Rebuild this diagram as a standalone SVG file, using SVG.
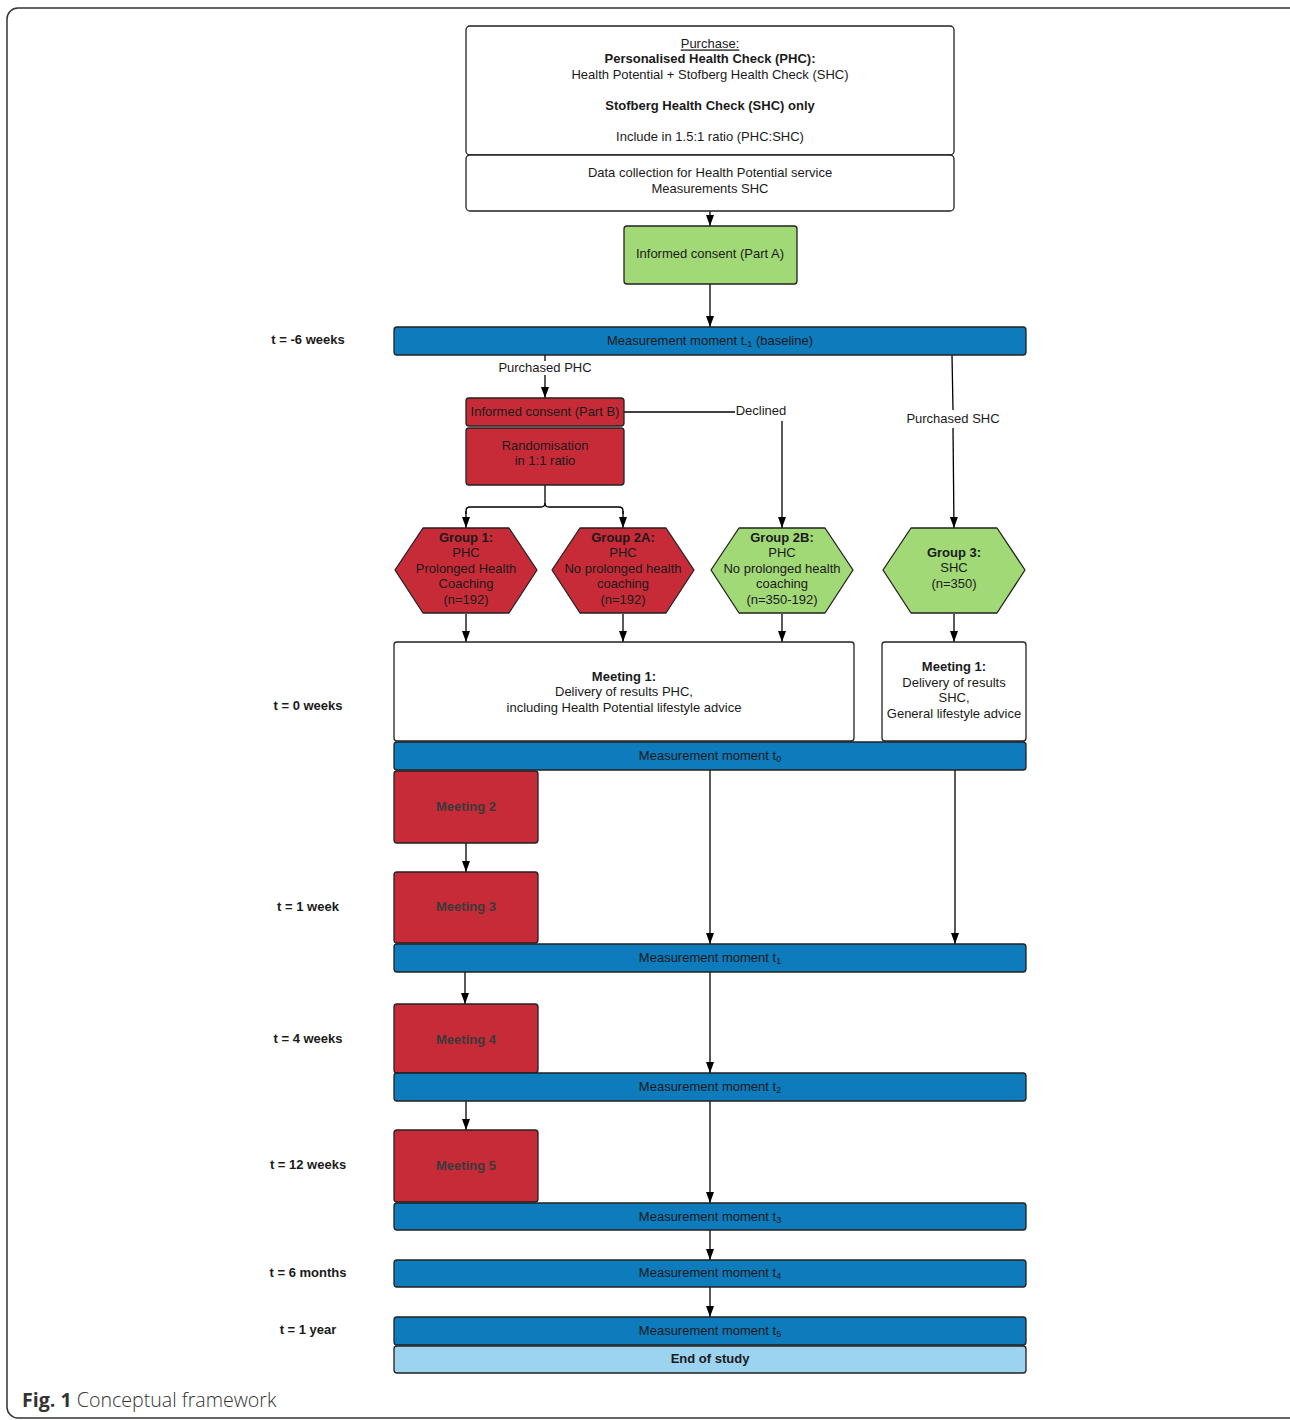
<svg xmlns="http://www.w3.org/2000/svg" width="1290" height="1420" viewBox="0 0 1290 1420">
<defs>
<marker id="ah" markerWidth="12" markerHeight="10" refX="11" refY="5" orient="auto" markerUnits="userSpaceOnUse"><path d="M0,1 L11,5 L0,9 z" fill="#000"/></marker>
<style>
text{font-family:"Liberation Sans",Arial,sans-serif;font-size:13px;fill:#1a1a1a;text-anchor:middle;dominant-baseline:middle;transform:translateY(1px)}
.b{font-weight:bold}
.box{fill:#fff;stroke:#222;stroke-width:1.3}
.red{fill:#C82B38;stroke:#222;stroke-width:1.3}
.green{fill:#A2D977;stroke:#222;stroke-width:1.3}
.blue{fill:#0D7BBC;stroke:#222;stroke-width:1.3}
.lblue{fill:#9CD3F1;stroke:#222;stroke-width:1.3}
.mt{fill:#3a3a3a;font-weight:bold}
.tl{font-weight:bold}
.c{fill:none;stroke:#000;stroke-width:1.3}
.a{fill:none;stroke:#000;stroke-width:1.3;marker-end:url(#ah)}
.sub{font-size:9px}
</style>
</defs>
<rect x="7" y="8" width="1300" height="1410" rx="11" fill="#fff" stroke="#333" stroke-width="1.5"/>

<g id="time-labels">
<text class="tl" x="308" y="340">t = -6 weeks</text>
<text class="tl" x="308" y="706">t = 0 weeks</text>
<text class="tl" x="308" y="907">t = 1 week</text>
<text class="tl" x="308" y="1039">t = 4 weeks</text>
<text class="tl" x="308" y="1165">t = 12 weeks</text>
<text class="tl" x="308" y="1273">t = 6 months</text>
<text class="tl" x="308" y="1330">t = 1 year</text>
</g>

<g id="connectors">
<line class="a" x1="710" y1="211" x2="710" y2="226"/>
<line class="a" x1="710" y1="284" x2="710" y2="327"/>
<line class="c" x1="545" y1="355" x2="545" y2="361"/>
<line class="a" x1="545" y1="375" x2="545" y2="398"/>
<line class="c" x1="624" y1="412" x2="735" y2="412"/>
<line class="a" x1="782" y1="421" x2="782" y2="528"/>
<line class="c" x1="952" y1="355" x2="953" y2="410"/>
<line class="a" x1="953" y1="428" x2="954" y2="528"/>
<path class="c" d="M545,485 V503 Q545,507 541,507 H470 Q466,507 466,511 V514"/>
<path class="a" d="M466,511 V528"/>
<path class="c" d="M545,503 Q545,507 549,507 H619 Q623,507 623,511 V514"/>
<path class="a" d="M623,511 V528"/>
<line class="a" x1="466" y1="614" x2="466" y2="642"/>
<line class="a" x1="623" y1="614" x2="623" y2="642"/>
<line class="a" x1="782" y1="614" x2="782" y2="642"/>
<line class="a" x1="954" y1="614" x2="954" y2="642"/>
<line class="a" x1="466" y1="843" x2="466" y2="872"/>
<line class="a" x1="710" y1="770" x2="710" y2="944"/>
<line class="a" x1="955" y1="770" x2="955" y2="944"/>
<line class="a" x1="465" y1="972" x2="465" y2="1004"/>
<line class="a" x1="710" y1="972" x2="710" y2="1073"/>
<line class="a" x1="466" y1="1101" x2="466" y2="1130"/>
<line class="a" x1="710" y1="1101" x2="710" y2="1203"/>
<line class="a" x1="710" y1="1230" x2="710" y2="1260"/>
<line class="a" x1="710" y1="1287" x2="710" y2="1317"/>
<text x="545" y="368">Purchased PHC</text>
<text x="761" y="411">Declined</text>
<text x="953" y="419">Purchased SHC</text>
</g>

<g id="purchase">
<rect class="box" x="466" y="26" width="488" height="129" rx="4"/>
<text x="710" y="44" text-decoration="underline">Purchase:</text>
<text class="b" x="710" y="59">Personalised Health Check (PHC):</text>
<text x="710" y="75">Health Potential + Stofberg Health Check (SHC)</text>
<text class="b" x="710" y="106">Stofberg Health Check (SHC) only</text>
<text x="710" y="137">Include in 1.5:1 ratio (PHC:SHC)</text>
</g>
<g id="data-collection">
<rect class="box" x="466" y="155" width="488" height="56" rx="4"/>
<text x="710" y="173">Data collection for Health Potential service</text>
<text x="710" y="189">Measurements SHC</text>
</g>
<g id="consent-a">
<rect class="green" x="624" y="226" width="173" height="58" rx="3"/>
<text x="710" y="254">Informed consent (Part A)</text>
</g>
<g id="mm-baseline">
<rect class="blue" x="394" y="327" width="632" height="28" rx="3"/>
<text x="710" y="341">Measurement moment t<tspan class="sub" dy="3">-1</tspan><tspan dy="-3"> (baseline)</tspan></text>
</g>
<g id="consent-b">
<rect class="red" x="466" y="398" width="158" height="28" rx="3"/>
<text x="545" y="412">Informed consent (Part B)</text>
</g>
<g id="randomisation">
<rect class="red" x="466" y="428" width="158" height="57" rx="3"/>
<text x="545" y="446">Randomisation</text>
<text x="545" y="461">in 1:1 ratio</text>
</g>
<g id="group1">
<polygon class="red" stroke-linejoin="round" points="395,570 423,528 509,528 537,570 509,613 423,613"/>
<text class="b" x="466" y="538">Group 1:</text>
<text x="466" y="553">PHC</text>
<text x="466" y="569">Prolonged Health</text>
<text x="466" y="584">Coaching</text>
<text x="466" y="600">(n=192)</text>
</g>
<g id="group2a">
<polygon class="red" stroke-linejoin="round" points="552,570 580,528 666,528 694,570 666,613 580,613"/>
<text class="b" x="623" y="538">Group 2A:</text>
<text x="623" y="553">PHC</text>
<text x="623" y="569">No prolonged health</text>
<text x="623" y="584">coaching</text>
<text x="623" y="600">(n=192)</text>
</g>
<g id="group2b">
<polygon class="green" stroke-linejoin="round" points="711,570 739,528 825,528 853,570 825,613 739,613"/>
<text class="b" x="782" y="538">Group 2B:</text>
<text x="782" y="553">PHC</text>
<text x="782" y="569">No prolonged health</text>
<text x="782" y="584">coaching</text>
<text x="782" y="600">(n=350-192)</text>
</g>
<g id="group3">
<polygon class="green" stroke-linejoin="round" points="883,570 911,528 997,528 1025,570 997,613 911,613"/>
<text class="b" x="954" y="553">Group 3:</text>
<text x="954" y="568">SHC</text>
<text x="954" y="584">(n=350)</text>
</g>
<g id="meeting1-phc">
<rect class="box" x="394" y="642" width="460" height="99" rx="3"/>
<text class="b" x="624" y="677">Meeting 1:</text>
<text x="624" y="692">Delivery of results PHC,</text>
<text x="624" y="708">including Health Potential lifestyle advice</text>
</g>
<g id="meeting1-shc">
<rect class="box" x="882" y="642" width="144" height="99" rx="3"/>
<text class="b" x="954" y="667">Meeting 1:</text>
<text x="954" y="683">Delivery of results</text>
<text x="954" y="698">SHC,</text>
<text x="954" y="714">General lifestyle advice</text>
</g>
<g id="mm-t0">
<rect class="blue" x="394" y="742" width="632" height="28" rx="3"/>
<text x="710" y="756">Measurement moment t<tspan class="sub" dy="3">0</tspan></text>
</g>
<g id="meeting2">
<rect class="red" x="394" y="771" width="144" height="72" rx="3"/>
<text class="mt" x="466" y="807">Meeting 2</text>
</g>
<g id="meeting3">
<rect class="red" x="394" y="872" width="144" height="71" rx="3"/>
<text class="mt" x="466" y="907">Meeting 3</text>
</g>
<g id="mm-t1">
<rect class="blue" x="394" y="944" width="632" height="28" rx="3"/>
<text x="710" y="958">Measurement moment t<tspan class="sub" dy="3">1</tspan></text>
</g>
<g id="meeting4">
<rect class="red" x="394" y="1004" width="144" height="69" rx="3"/>
<text class="mt" x="466" y="1040">Meeting 4</text>
</g>
<g id="mm-t2">
<rect class="blue" x="394" y="1073" width="632" height="28" rx="3"/>
<text x="710" y="1087">Measurement moment t<tspan class="sub" dy="3">2</tspan></text>
</g>
<g id="meeting5">
<rect class="red" x="394" y="1130" width="144" height="72" rx="3"/>
<text class="mt" x="466" y="1166">Meeting 5</text>
</g>
<g id="mm-t3">
<rect class="blue" x="394" y="1203" width="632" height="27" rx="3"/>
<text x="710" y="1217">Measurement moment t<tspan class="sub" dy="3">3</tspan></text>
</g>
<g id="mm-t4">
<rect class="blue" x="394" y="1260" width="632" height="27" rx="3"/>
<text x="710" y="1273">Measurement moment t<tspan class="sub" dy="3">4</tspan></text>
</g>
<g id="mm-t5">
<rect class="blue" x="394" y="1317" width="632" height="28" rx="3"/>
<text x="710" y="1331">Measurement moment t<tspan class="sub" dy="3">5</tspan></text>
</g>
<g id="end-of-study">
<rect class="lblue" x="394" y="1346" width="632" height="27" rx="3"/>
<text class="b" x="710" y="1359">End of study</text>
</g>
<text x="22" y="1401" style="font-family:'Open Sans','Noto Sans',sans-serif;font-size:19.6px;text-anchor:start;fill:#333;font-weight:300"><tspan font-weight="bold">Fig. 1</tspan> Conceptual framework</text>
</svg>
